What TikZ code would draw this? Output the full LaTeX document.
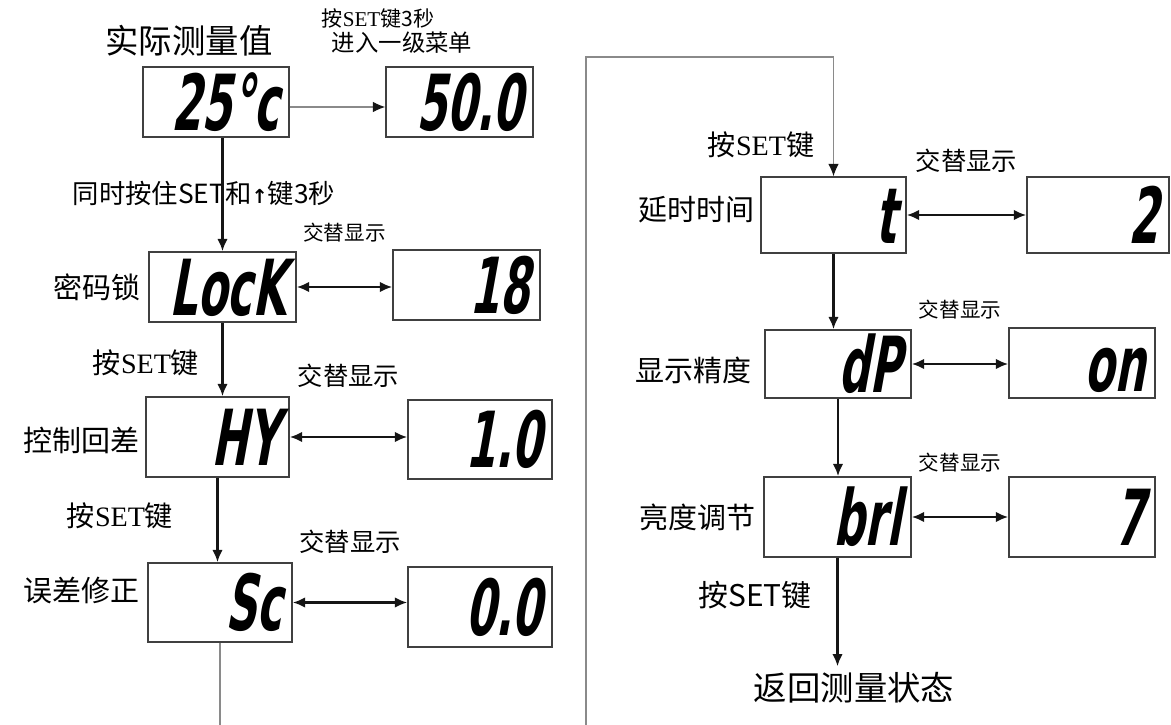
\documentclass[tikz,border=0pt]{standalone}
\usepackage{fontspec}
\usepackage{xcolor}
\usepackage{tikz}
\usetikzlibrary{positioning,arrows.meta}
\setmainfont{Noto Sans CJK SC}
\newfontfamily\segfont{DejaVu Sans}[FakeStretch=0.56,FakeSlant=0.18]
\newfontfamily\latinserif{Liberation Serif}
\newfontfamily\symfont{DejaVu Sans}
\definecolor{boxgray}{HTML}{404040}
\definecolor{linegray}{HTML}{8A8A8A}
\definecolor{inkblack}{HTML}{151515}
\tikzstyle{lcd} = [rectangle, draw=boxgray, line width=0.9pt, inner xsep=0.2cm, inner ysep=0pt,
    align=right, text height=32pt, text depth=0pt, font=\segfont\bfseries\fontsize{44}{44}\selectfont]
\tikzstyle{headline} = [font=\fontsize{19}{22}\selectfont]
\tikzstyle{side} = [font=\fontsize{16.5}{19}\selectfont]
\tikzstyle{keyhint} = [font=\fontsize{16}{19}\selectfont]
\tikzstyle{altlabel} = [font=\fontsize{11.7}{14}\selectfont]
\tikzstyle{altbig} = [font=\fontsize{14.4}{17}\selectfont]
\tikzstyle{flowarrow} = [draw=inkblack, line width=1.4pt, ->]
\tikzstyle{altline} = [draw=inkblack, line width=1.2pt, <->]
\tikzstyle{grayline} = [draw=linegray, line width=0.6pt]

\begin{document}
\begin{tikzpicture}[auto, node distance=2cm, >={Latex[length=7pt,width=6pt]}]
                \useasboundingbox (0,0) rectangle (23.42,-14.5);
                % Left column
                \node [lcd, text width=2.52cm, minimum height=1.4cm] (now) at (4.32,-2.04) {25°c};
                \node [lcd, text width=2.54cm, minimum height=1.4cm, right of=now, node distance=4.87cm] (first) {50.0};
                \node [lcd, text width=2.54cm, minimum height=1.4cm, below of=now, node distance=3.70cm, xshift=0.13cm] (lock) {LocK};
                \node [lcd, text width=2.54cm, minimum height=1.4cm, right of=lock, node distance=4.88cm, yshift=0.04cm] (code) {18};
                \node [lcd, text width=2.46cm, minimum height=1.6cm, below of=lock, node distance=3.0cm, xshift=-0.10cm] (hy) {HY};
                \node [lcd, text width=2.48cm, minimum height=1.58cm, right of=hy, node distance=5.25cm, yshift=-0.05cm] (hyval) {1.0};
                \node [lcd, text width=2.48cm, minimum height=1.58cm, below of=hy, node distance=3.31cm, xshift=0.05cm] (sc) {Sc};
                \node [lcd, text width=2.48cm, minimum height=1.6cm, right of=sc, node distance=5.2cm, yshift=-0.09cm] (scval) {0.0};

                % Right column
                \node [lcd, text width=2.50cm, minimum height=1.52cm] (delay) at (16.67,-4.30) {t};
                \node [lcd, text width=2.44cm, minimum height=1.52cm, right of=delay, node distance=5.29cm] (delayval) {2};
                \node [lcd, text width=2.52cm, minimum height=1.36cm, below of=delay, node distance=2.98cm, xshift=0.09cm] (dp) {dP};
                \node [lcd, text width=2.52cm, minimum height=1.4cm, right of=dp, node distance=4.88cm, yshift=0.02cm] (dpval) {on};
                \node [lcd, text width=2.54cm, minimum height=1.6cm, below of=dp, node distance=3.06cm, xshift=-0.01cm] (bri) {brl};
                \node [lcd, text width=2.52cm, minimum height=1.6cm, right of=bri, node distance=4.89cm] (brival) {7};

                % Labels
                \node [headline, above of=now, node distance=1.22cm, xshift=-0.54cm] (head) {实际测量值};
                \node [above of=first, node distance=1.18cm, xshift=-1.15cm, font=\fontsize{13.3}{16}\selectfont, inner sep=1pt] (menu) {进入一级菜单};
                \node [above of=menu, node distance=0.5cm, xshift=-0.48cm, font=\fontsize{12}{14}\selectfont, inner sep=1pt] (hold) {按{\latinserif SET}键3秒};
                \node [below of=now, node distance=1.82cm, xshift=-0.24cm, font=\fontsize{15}{18}\selectfont] (combo) {同时按住SET和{\symfont\bfseries\fontsize{11}{11}\selectfont ↑}键3秒};
                \node [keyhint, below of=lock, node distance=1.52cm, xshift=-1.53cm] (set1) {按{\latinserif SET}键};
                \node [keyhint, below of=hy, node distance=1.58cm, xshift=-1.95cm] (set2) {按{\latinserif SET}键};
                \node [keyhint, above of=delay, node distance=1.40cm, xshift=-1.45cm] (set3) {按{\latinserif SET}键};
                \node [keyhint, below of=bri, node distance=1.56cm, xshift=-1.65cm, font=\fontsize{17}{20}\selectfont] (set4) {按SET键};
                \node [headline, below of=bri, node distance=3.42cm, xshift=0.33cm] (back) {返回测量状态};

                \node [side, left=0.03cm of lock] (locklabel) {密码锁};
                \node [side, left=0pt of hy, yshift=-0.06cm] (hylabel) {控制回差};
                \node [side, left=0.04cm of sc, yshift=0.24cm] (sclabel) {误差修正};
                \node [side, left=0pt of delay, yshift=0.1cm] (delaylabel) {延时时间};
                \node [side, left=0.14cm of dp, yshift=-0.12cm] (dplabel) {显示精度};
                \node [side, left=0.04cm of bri] (brilabel) {亮度调节};

                % Loop ends
                \coordinate (leftend) at (sc.south |- 0,-14.5);
                \coordinate (loopbot) at (11.72,-14.5);
                \coordinate (looptop) at (11.72,-1.14);

                % Connections
                \draw [grayline, -{Latex[length=7pt,width=6pt,color=inkblack]}] ([yshift=-0.1cm]now.east) -- ([yshift=-0.1cm]first.west);
                \draw [flowarrow] (lock.north |- now.south) -- (lock.north);
                \draw [flowarrow] (lock.south) -- (lock.south |- hy.north);
                \draw [flowarrow] (hy.south) -- (hy.south |- sc.north);
                \draw [grayline] (sc.south) -- (leftend);

                \draw [grayline, -{Latex[length=7pt,width=6pt,color=inkblack]}] (loopbot) -- (looptop) -| (delay.north);
                \draw [flowarrow] (delay.south) -- (delay.south |- dp.north);
                \draw [flowarrow] (dp.south) -- (dp.south |- bri.north);
                \draw [flowarrow] (bri.south) -- (bri.south |- back.north);

                % Alternating displays
                \draw [altline] (lock.east) -- node[altlabel, midway, yshift=0.76cm] (alt1) {交替显示} (lock.east -| code.west);
                \draw [altline] (hy.east) -- node[altbig, midway, yshift=0.86cm] (alt2) {交替显示} (hy.east -| hyval.west);
                \draw [altline] (sc.east) -- node[altbig, midway, yshift=0.84cm] (alt3) {交替显示} (sc.east -| scval.west);
                \draw [altline] (delay.east) -- node[altbig, midway, yshift=0.72cm] (alt4) {交替显示} (delay.east -| delayval.west);
                \draw [altline] (dp.east) -- node[altlabel, midway, yshift=0.76cm] (alt5) {交替显示} (dp.east -| dpval.west);
                \draw [altline] (bri.east) -- node[altlabel, midway, yshift=0.76cm] (alt6) {交替显示} (bri.east -| brival.west);

            \end{tikzpicture}
\end{document}
